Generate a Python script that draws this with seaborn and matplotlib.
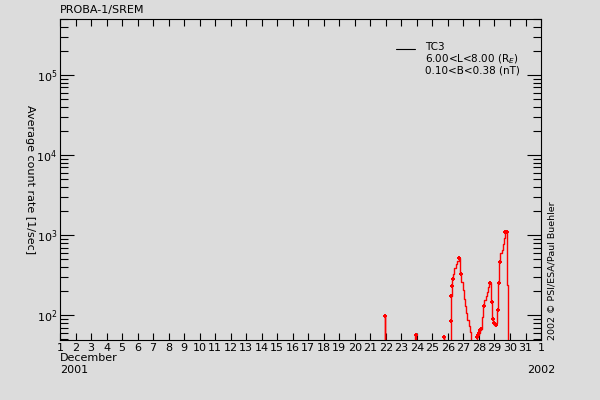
import matplotlib
matplotlib.use("Agg")
import matplotlib.pyplot as plt
from matplotlib.lines import Line2D
from matplotlib.ticker import LogLocator, FixedLocator, NullFormatter
import numpy as np
import pandas as pd
import seaborn as sns

# count rate (1 = below the plotted range)
day = [1.0, 21.92, 21.95, 21.98,
       23.85, 23.94, 24.0,
       25.70, 25.74, 25.80,
       26.15, 26.19, 26.22, 26.26, 26.30, 26.38, 26.45, 26.55, 26.65, 26.73,
       26.78, 26.82, 26.90, 26.98, 27.05, 27.14, 27.20, 27.30, 27.40, 27.48,
       27.55, 27.60,
       27.84, 27.87, 27.95, 28.00, 28.08, 28.14, 28.20, 28.24, 28.30, 28.38,
       28.47, 28.56, 28.62, 28.69, 28.76, 28.82, 28.89, 28.95, 29.02, 29.10,
       29.16, 29.22, 29.28, 29.34, 29.43, 29.50, 29.56, 29.63, 29.70, 29.80,
       29.86, 29.90, 32.0]
rate = [1, 1, 97, 1,
        1, 57, 1,
        1, 53, 1,
        1, 84, 173, 230, 280, 330, 390, 440, 480, 516,
        500, 330, 260, 205, 160, 130, 105, 86, 73, 62,
        40, 1,
        1, 53, 56, 60, 65, 68, 76, 95, 130, 154,
        173, 196, 226, 253, 250, 147, 89, 79, 76, 75,
        80, 115, 253, 464, 590, 660, 780, 910, 1100, 1100,
        237, 1, 1]

mark_day = [21.95, 23.94, 25.74, 26.19, 26.22, 26.26, 26.30, 26.73, 26.82,
            27.87, 27.95, 28.00, 28.08, 28.14, 28.30, 28.69, 28.82, 28.89,
            28.95, 29.10, 29.22, 29.28, 29.34, 29.70, 29.80]
mark_rate = [97, 57, 53, 84, 173, 230, 280, 516, 330,
             53, 56, 60, 65, 68, 130, 253, 147, 89,
             79, 75, 115, 253, 464, 1100, 1100]

tick_days = list(range(1, 33))
tick_labels = [str(d) for d in range(1, 32)] + ["1"]

bg = "#dcdcdc"
sns.set_style("ticks")
plt.rcParams["font.family"] = ["DejaVu Sans"]
plt.rcParams["text.color"] = "black"
plt.rcParams["axes.labelcolor"] = "black"
plt.rcParams["xtick.color"] = "black"
plt.rcParams["ytick.color"] = "black"

fig = plt.figure(figsize=(6, 4), dpi=100, facecolor=bg)
ax = fig.add_axes([0.1, 0.15, 0.8017, 0.8025])
ax.set_facecolor(bg)

df = pd.DataFrame({"day": day, "rate": rate})
sns.lineplot(data=df, x="day", y="rate", ax=ax, color="red", lw=1.0,
             drawstyle="steps-mid", estimator=None, sort=False)
mk = pd.DataFrame({"day": mark_day, "rate": mark_rate})
sns.scatterplot(data=mk, x="day", y="rate", ax=ax, color="red", marker="P",
                s=12, linewidth=0, zorder=3)

ax.set_yscale("log")
ax.set_xlim(1, 32)
ax.set_ylim(10 ** 1.69, 10 ** 5.7)
ax.yaxis.set_major_locator(FixedLocator([1e2, 1e3, 1e4, 1e5]))
ax.yaxis.set_minor_locator(LogLocator(base=10, subs=np.arange(2, 10)))
ax.yaxis.set_minor_formatter(NullFormatter())
ax.set_yticklabels(["10$^2$", "10$^3$", "10$^4$", "10$^5$"], fontsize=8)
ax.set_xticks(tick_days)
ax.set_xticklabels(tick_labels, fontsize=8)
ax.tick_params(axis="both", which="both", direction="in", top=True, right=True,
               color="black", width=0.8)
ax.tick_params(axis="y", which="major", length=10, pad=2)
ax.tick_params(axis="y", which="minor", length=6)
ax.tick_params(axis="x", which="major", length=5, pad=2)
for s in ax.spines.values():
    s.set_color("black")
    s.set_linewidth(0.8)
ax.set_xlabel("")
ax.set_ylabel("Average count rate [1/sec]", rotation=270, fontsize=8,
              labelpad=8, va="bottom")

fig.text(0.1, 0.975, "PROBA-1/SREM", fontsize=8, va="center", ha="left")
fig.text(0.1, 0.105, "December", fontsize=8, va="center", ha="left")
fig.text(0.1, 0.075, "2001", fontsize=8, va="center", ha="left")
fig.text(0.9017, 0.075, "2002", fontsize=8, va="center", ha="center")
fig.text(0.912, 0.15, "2002 \u00a9 PSI/ESA/Paul Buehler", fontsize=6.8,
         rotation=90, va="bottom", ha="left")

# legend
fig.add_artist(Line2D([0.66, 0.692], [0.877, 0.877], color="black", lw=0.8))
fig.text(0.708, 0.895, "TC3\n6.00<L<8.00 (R$_E$)\n0.10<B<0.38 (nT)",
         fontsize=7.5, va="top", ha="left", linespacing=1.0)

fig.savefig("out.png", dpi=100, facecolor=bg)
